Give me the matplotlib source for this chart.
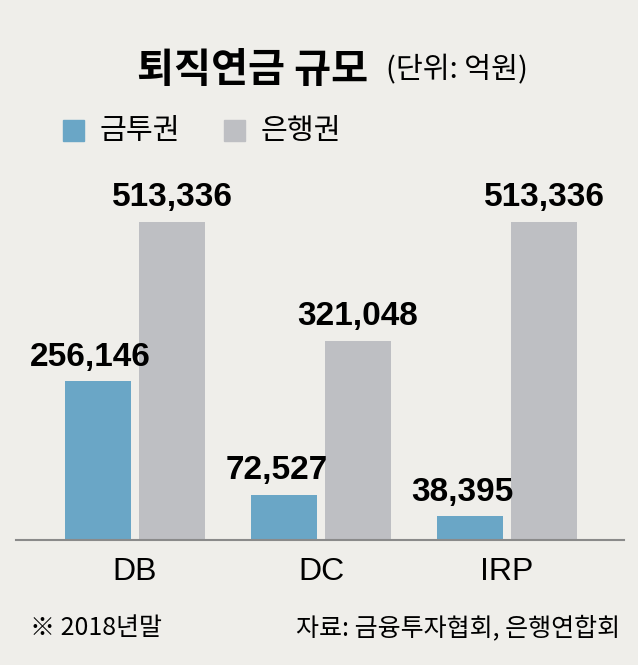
import matplotlib.pyplot as plt
import numpy as np
from matplotlib.patches import Rectangle

plt.rcParams["font.family"] = ["Noto Sans CJK KR", "DejaVu Sans"]

categories = ["DB", "DC", "IRP"]
series_names = ["금투권", "은행권"]
securities = [256146, 72527, 38395]
banks = [513336, 321048, 513336]
value_labels_sec = ["256,146", "72,527", "38,395"]
value_labels_bank = ["513,336", "321,048", "513,336"]

BG = "#efeeea"
BLUE = "#6aa6c6"
GRAY = "#bebfc3"
NUM_FONT = ["Liberation Sans Narrow", "Liberation Sans", "DejaVu Sans"]

fig = plt.figure(figsize=(6.38, 6.65), dpi=100, facecolor=BG)
W, H = 638, 665

# axes placed in pixel terms
ax = fig.add_axes([16 / W, 1 - 540 / H, 608 / W, 380 / H])
ax.set_facecolor(BG)

x = np.arange(len(categories))
width = 0.355
offset = 0.199

ax.bar(x - offset, securities, width, color=BLUE)
ax.bar(x + offset, banks, width, color=GRAY)

for xi, v, lab in zip(x, securities, value_labels_sec):
    ax.text(xi - offset - 0.04, v + 14000, lab, ha="center", va="bottom",
            fontsize=24, fontweight="bold", family=NUM_FONT)
for xi, v, lab in zip(x, banks, value_labels_bank):
    ax.text(xi + offset, v + 14000, lab, ha="center", va="bottom",
            fontsize=24, fontweight="bold", family=NUM_FONT)

ax.set_xlim(-0.640, 2.629)
ax.set_ylim(0, 613000)
for s in ["top", "left", "right"]:
    ax.spines[s].set_visible(False)
ax.spines["bottom"].set_color("#8a8a8a")
ax.spines["bottom"].set_linewidth(1.5)
ax.set_yticks([])
ax.set_xticks(x)
ax.set_xticklabels(categories, fontsize=23, family=NUM_FONT)
ax.tick_params(axis="x", length=0, pad=12)

# title
fig.text(137 / W, 1 - 70 / H, "퇴직연금 규모", fontsize=29, fontweight="bold",
         va="center", ha="left")
fig.text(386 / W, 1 - 70 / H, "(단위: 억원)", fontsize=21, va="center", ha="left")

# legend
for lx, col, name in [(63, BLUE, series_names[0]), (224, GRAY, series_names[1])]:
    fig.patches.append(Rectangle((lx / W, 1 - 141 / H), 21 / W, 21 / H,
                                 transform=fig.transFigure, color=col))
    fig.text((lx + 37) / W, 1 - 131 / H, name, fontsize=21, va="center", ha="left")

# footer
fig.text(30 / W, 1 - 628 / H, "※ 2018년말", fontsize=18, va="center", ha="left")
fig.text(620 / W, 1 - 628 / H, "자료: 금융투자협회, 은행연합회", fontsize=18,
         va="center", ha="right")

fig.savefig("out.png", dpi=100, facecolor=BG)
